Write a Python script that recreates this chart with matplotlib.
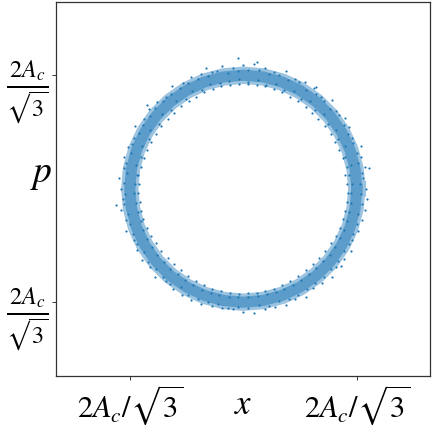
#!/usr/bin/env python3
# -*- coding: utf-8 -*-

import matplotlib
matplotlib.use("Agg")
import matplotlib.pyplot as plt

plt.rcParams['mathtext.fontset'] = 'stix'
plt.rcParams['font.family'] = ['Liberation Serif', 'DejaVu Serif']

tick_values = [-1, 1]
xtick_labels = [r'$2A_c/\sqrt{3}$', r'$2A_c/\sqrt{3}$']
ytick_labels = [r'$\frac{2A_c}{\sqrt{3}}$', r'$\frac{2A_c}{\sqrt{3}}$']

## Dense core of the ring
core_x = [1.000, 0.985, 0.940, 0.866, 0.766, 0.643, 0.500, 0.342, 0.174, 0.000, -0.174, -0.342,
          -0.500, -0.643, -0.766, -0.866, -0.940, -0.985, -1.000, -0.985, -0.940, -0.866, -0.766, -0.643,
          -0.500, -0.342, -0.174, 0.000, 0.174, 0.342, 0.500, 0.643, 0.766, 0.866, 0.940, 0.985, 1.000]
core_y = [0.000, 0.174, 0.342, 0.500, 0.643, 0.766, 0.866, 0.940, 0.985, 1.000, 0.985, 0.940,
          0.866, 0.766, 0.643, 0.500, 0.342, 0.174, 0.000, -0.174, -0.342, -0.500, -0.643, -0.766,
          -0.866, -0.940, -0.985, -1.000, -0.985, -0.940, -0.866, -0.766, -0.643, -0.500, -0.342, -0.174, 0.000]

## Outer fringe of the ring
outer_x = [1.080, 1.056, 1.074, 1.034, 1.034, 0.960, 0.935, 0.893, 0.820, 0.778, 0.681, 0.619,
           0.545, 0.452, 0.376, 0.274, 0.188, 0.096, 0.000, -0.093, -0.191, -0.274, -0.369, -0.461,
           -0.535, -0.631, -0.681, -0.764, -0.835, -0.876, -0.953, -0.961, -1.015, -1.053, -1.054, -1.096,
           -1.080, -1.056, -1.073, -1.034, -1.034, -0.961, -0.935, -0.893, -0.820, -0.778, -0.681, -0.619,
           -0.540, -0.458, -0.370, -0.277, -0.186, -0.092, 0.000, 0.096, 0.187, 0.280, 0.372, 0.452,
           0.550, 0.613, 0.694, 0.778, 0.820, 0.886, 0.953, 0.961, 1.015, 1.044, 1.073, 1.090,
           -0.050, 0.120, -0.330, 0.640, 1.110, -1.120, 0.860, -0.850]
outer_y = [0.000, 0.092, 0.189, 0.277, 0.376, 0.448, 0.540, 0.625, 0.688, 0.778, 0.812, 0.885,
           0.944, 0.970, 1.034, 1.024, 1.064, 1.096, 1.090, 1.066, 1.083, 1.024, 1.015, 0.988,
           0.927, 0.901, 0.812, 0.764, 0.701, 0.614, 0.550, 0.448, 0.369, 0.282, 0.186, 0.096,
           0.000, -0.092, -0.189, -0.277, -0.376, -0.448, -0.540, -0.625, -0.688, -0.778, -0.812, -0.885,
           -0.935, -0.982, -1.017, -1.034, -1.055, -1.056, -1.090, -1.096, -1.064, -1.046, -1.022, -0.970,
           -0.953, -0.876, -0.827, -0.778, -0.688, -0.620, -0.550, -0.448, -0.369, -0.280, -0.189, -0.095,
           1.155, 1.120, 1.060, 0.900, 0.180, -0.140, -0.680, 0.740]

## Inner fringe of the ring
inner_x = [0.915, 0.900, 0.910, 0.880, 0.845, 0.805, 0.770, 0.720, 0.660, 0.605, 0.555, 0.480,
           0.410, 0.345, 0.270, 0.195, 0.120, 0.040, -0.040, -0.120, -0.195, -0.265, -0.345, -0.415,
           -0.480, -0.550, -0.610, -0.665, -0.725, -0.770, -0.810, -0.850, -0.875, -0.905, -0.925, -0.915,
           -0.930, -0.910, -0.905, -0.885, -0.850, -0.815, -0.770, -0.725, -0.665, -0.610, -0.550, -0.485,
           -0.415, -0.345, -0.275, -0.195, -0.120, -0.040, 0.040, 0.120, 0.195, 0.270, 0.340, 0.415,
           0.480, 0.550, 0.610, 0.665, 0.720, 0.770, 0.815, 0.850, 0.880, 0.900, 0.915, 0.925]
inner_y = [0.040, 0.120, 0.195, 0.270, 0.345, 0.410, 0.480, 0.550, 0.610, 0.665, 0.720, 0.770,
           0.810, 0.850, 0.880, 0.905, 0.915, 0.925, 0.920, 0.915, 0.905, 0.875, 0.850, 0.810,
           0.775, 0.725, 0.665, 0.610, 0.555, 0.480, 0.415, 0.345, 0.270, 0.195, 0.120, 0.040,
           -0.040, -0.120, -0.195, -0.270, -0.345, -0.415, -0.480, -0.550, -0.610, -0.665, -0.720, -0.770,
           -0.815, -0.850, -0.880, -0.905, -0.915, -0.925, -0.920, -0.915, -0.905, -0.880, -0.850, -0.815,
           -0.770, -0.720, -0.665, -0.610, -0.550, -0.480, -0.415, -0.345, -0.270, -0.195, -0.120, -0.040]

## Points just outside the core
upper_x = [1.029, 1.050, 1.015, 1.002, 0.970, 0.922, 0.885, 0.841, 0.766, 0.710, 0.640, 0.553,
           0.490, 0.398, 0.316, 0.225, 0.139, 0.045, -0.046, -0.135, -0.229, -0.313, -0.402, -0.490,
           -0.559, -0.633, -0.703, -0.781, -0.824, -0.885, -0.922, -0.980, -0.992, -1.035, -1.021, -1.049,
           -1.039, -1.050, -1.015, -1.002, -0.970, -0.932, -0.876, -0.841, -0.766, -0.703, -0.646, -0.553,
           -0.490, -0.402, -0.310, -0.225, -0.139, -0.044, 0.045, 0.135, 0.229, 0.313, 0.402, 0.485,
           0.564, 0.633, 0.710, 0.774, 0.833, 0.885, 0.931, 0.970, 1.002, 1.015, 1.050, 1.039]
upper_y = [0.045, 0.139, 0.225, 0.316, 0.402, 0.480, 0.564, 0.646, 0.703, 0.774, 0.833, 0.868,
           0.940, 0.961, 1.002, 1.015, 1.050, 1.049, 1.039, 1.021, 1.035, 0.992, 0.970, 0.931,
           0.885, 0.833, 0.774, 0.710, 0.640, 0.564, 0.490, 0.398, 0.313, 0.225, 0.135, 0.046,
           -0.046, -0.139, -0.220, -0.310, -0.402, -0.485, -0.559, -0.646, -0.703, -0.774, -0.841, -0.868,
           -0.940, -0.970, -1.002, -1.015, -1.050, -1.039, -1.049, -1.021, -1.035, -0.992, -0.970, -0.932,
           -0.885, -0.833, -0.781, -0.703, -0.640, -0.553, -0.490, -0.402, -0.310, -0.225, -0.139, -0.046]

## Points just inside the core
lower_x = [0.954, 0.932, 0.947, 0.897, 0.896, 0.834, 0.818, 0.745, 0.715, 0.635, 0.591, 0.505,
           0.448, 0.360, 0.292, 0.203, 0.127, 0.041, -0.042, -0.127, -0.205, -0.292, -0.360, -0.448,
           -0.505, -0.591, -0.635, -0.715, -0.745, -0.818, -0.834, -0.896, -0.897, -0.947, -0.932, -0.954,
           -0.960, -0.945, -0.925, -0.905, -0.880, -0.850, -0.800, -0.760, -0.700, -0.650, -0.575, -0.515,
           -0.440, -0.365, -0.285, -0.210, -0.125, -0.043, 0.042, 0.126, 0.210, 0.285, 0.362, 0.440,
           0.510, 0.580, 0.645, 0.705, 0.760, 0.805, 0.850, 0.885, 0.915, 0.930, 0.945, 0.952]
lower_y = [0.042, 0.123, 0.210, 0.283, 0.372, 0.434, 0.521, 0.572, 0.656, 0.693, 0.769, 0.792,
           0.860, 0.869, 0.925, 0.918, 0.961, 0.939, 0.964, 0.951, 0.927, 0.925, 0.869, 0.860,
           0.792, 0.769, 0.693, 0.656, 0.572, 0.521, 0.434, 0.372, 0.283, 0.210, 0.123, 0.042,
           -0.042, -0.125, -0.208, -0.288, -0.365, -0.442, -0.512, -0.585, -0.648, -0.705, -0.755, -0.805,
           -0.852, -0.888, -0.915, -0.935, -0.950, -0.958, -0.955, -0.948, -0.930, -0.908, -0.882, -0.845,
           -0.800, -0.755, -0.700, -0.640, -0.580, -0.515, -0.438, -0.365, -0.288, -0.208, -0.124, -0.042]

fig = plt.figure(figsize=(4.32, 4.32), dpi=100)
ax = fig.add_axes([56 / 432, 1 - 376 / 432, 374 / 432, 374 / 432])

ax.plot(core_x, core_y, color='#9cc4e0', lw=12.5, solid_joinstyle='round', zorder=1)
ax.plot(core_x, core_y, color='#5b9cca', lw=8, solid_joinstyle='round', zorder=1)
for px, py in [(outer_x, outer_y), (inner_x, inner_y), (upper_x, upper_y), (lower_x, lower_y)]:
    ax.scatter(px, py, s=2.5, color='#1f77b4', linewidths=0, zorder=2)

ax.set_xlim(-1.65, 1.645)
ax.set_ylim(-1.65, 1.645)
ax.set_xticks(tick_values)
ax.set_yticks(tick_values)
ax.set_xticklabels(xtick_labels, fontsize=22)
ax.set_yticklabels(ytick_labels, fontsize=25)
ax.tick_params(length=3, width=0.7, color='#333333')
ax.tick_params(axis='x', pad=2)
ax.tick_params(axis='y', pad=2)
ax.set_xlabel(r'$x$', fontsize=25, va='center')
ax.set_ylabel(r'$p$', fontsize=27, rotation=0, va='center', ha='center')
ax.xaxis.set_label_coords(0.5, -0.078)
ax.yaxis.set_label_coords(-0.04, 0.537)

for spine in ax.spines.values():
    spine.set_color('#333333')
    spine.set_linewidth(0.9)

fig.savefig('out.png', dpi=100)
